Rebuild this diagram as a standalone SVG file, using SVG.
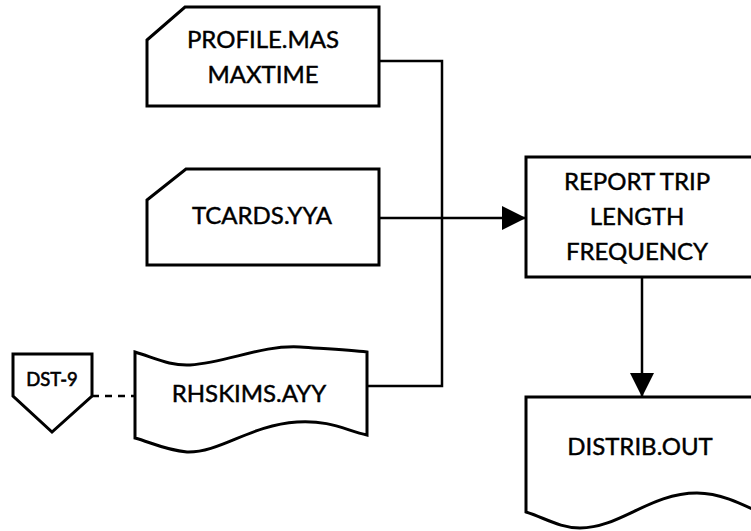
<svg xmlns="http://www.w3.org/2000/svg" width="751" height="531" viewBox="0 0 751 531">
<style>
.s{fill:#fff;stroke:#000;stroke-width:3;stroke-linejoin:miter}
.t{font-family:Lato,"Open Sans","Liberation Sans",sans-serif;font-size:24px;fill:#000;stroke:#000;stroke-width:0.45;text-anchor:middle}
.sm{font-size:18.5px;stroke-width:0.6}
.c{fill:none;stroke:#000;stroke-width:2.5}
</style>
<defs>
<marker id="ah" markerWidth="24" markerHeight="24" viewBox="0 0 24 24" refX="24" refY="12" markerUnits="userSpaceOnUse" orient="auto">
<path d="M0,0 L24,12 L0,24 Z" fill="#000"/>
</marker>
</defs>
<g id="connectors">
<path class="c" d="M379,61 H442 V386 H367"/>
<path class="c" d="M379,218 H526" stroke-width="3" marker-end="url(#ah)"/>
<path class="c" d="M642,277 V397" marker-end="url(#ah)"/>
<path class="c" d="M92,396 H135" stroke-width="1.5" stroke-dasharray="7,6"/>
</g>
<g id="profile">
<path class="s" d="M147,40 L185,7 H379 V106 H147 Z"/>
<text class="t" x="263" y="48">PROFILE.MAS</text>
<text class="t" x="263" y="83">MAXTIME</text>
</g>
<g id="tcards">
<path class="s" d="M147,200 L186,169 H379 V265 H147 Z"/>
<text class="t" x="262" y="224">TCARDS.YYA</text>
</g>
<g id="rhskims">
<path class="s" d="M135,352 C155,358 170,366 190,365 C230,362 260,345 300,347 C330,349 350,350 367,352 V435 C345,430 330,420 297,422 C250,425 220,453 187,452 C165,450 150,442 135,438 Z"/>
<text class="t" x="249" y="402">RHSKIMS.AYY</text>
</g>
<g id="dst9">
<path class="s" d="M13,354 H92 V396 L52,432 L13,396 Z"/>
<text class="t sm" x="52" y="386">DST-9</text>
</g>
<g id="report">
<path class="s" d="M765,157 H526 V277 H765"/>
<text class="t" x="637" y="190">REPORT TRIP</text>
<text class="t" x="637" y="225">LENGTH</text>
<text class="t" x="637" y="260">FREQUENCY</text>
</g>
<g id="distrib">
<path class="s" d="M765,397 H526 V512 C545,518 560,528 580,528 C620,528 650,493 697,493 C720,493 740,503 765,515"/>
<text class="t" x="640" y="455">DISTRIB.OUT</text>
</g>
</svg>
